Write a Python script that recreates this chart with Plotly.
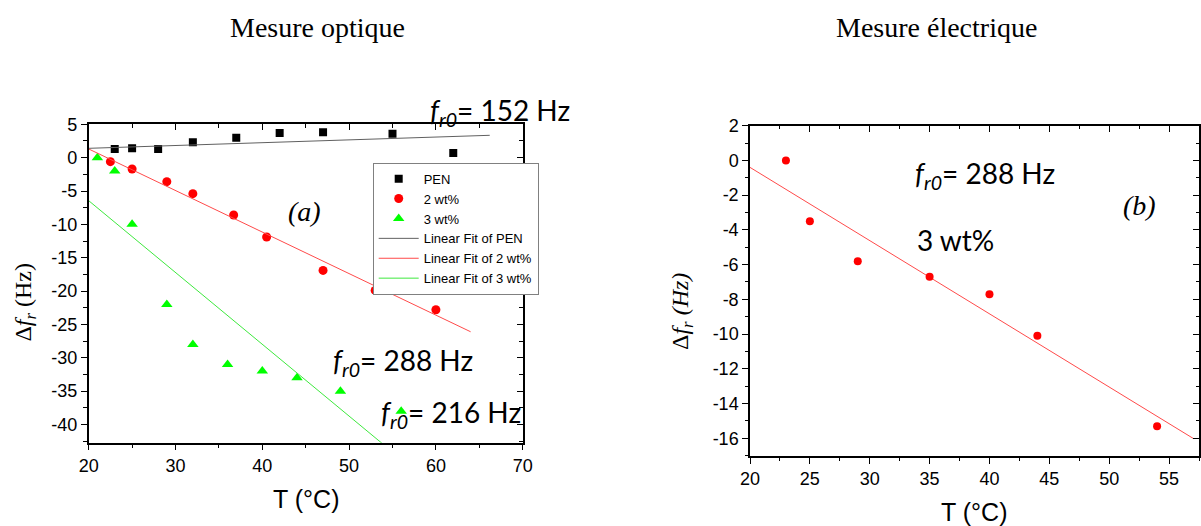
import plotly.graph_objects as go

W, H = 1201, 526

# ---------------- Panel (a) : Mesure optique ----------------
pen_T = [23, 25, 28, 32, 37, 42, 47, 55, 62]
pen_df = [1.3, 1.4, 1.3, 2.3, 3.0, 3.7, 3.8, 3.6, 0.7]
wt2_T = [22.5, 25, 29, 32, 36.7, 40.5, 47, 53, 60]
wt2_df = [-0.6, -1.7, -3.6, -5.4, -8.6, -11.9, -16.9, -19.9, -22.8]
wt3_T = [21, 23, 25, 29, 32, 36, 40, 44, 49, 56]
wt3_df = [0, -2, -10, -22, -28, -31, -32, -33, -35, -38]
fit_pen_T = [20, 66.2]
fit_pen_df = [1.4, 3.35]
fit_wt2_T = [20, 64]
fit_wt2_df = [1.3, -26.1]
fit_wt3_T = [20, 56]
fit_wt3_df = [-6.45, -45.2]
a_xticks = [20, 30, 40, 50, 60, 70]
a_yticks = [5, 0, -5, -10, -15, -20, -25, -30, -35, -40]

# ---------------- Panel (b) : Mesure électrique ----------------
b_T = [23, 25, 29, 35, 40, 44, 54]
b_df = [0, -3.5, -5.8, -6.7, -7.7, -10.1, -15.3]
fit_b_T = [20, 57]
fit_b_df = [-0.4, -16.0]
b_xticks = [20, 25, 30, 35, 40, 45, 50, 55]
b_yticks = [2, 0, -2, -4, -6, -8, -10, -12, -14, -16]

SANS = "Liberation Sans, Arial, sans-serif"
SERIF = "Liberation Serif, Times New Roman, serif"
CAL = "Lato, Open Sans, sans-serif"

fig = go.Figure()

fig.add_trace(go.Scatter(x=pen_T, y=pen_df, mode="markers", name="PEN",
                         marker=dict(symbol="square", size=8, color="black"),
                         xaxis="x", yaxis="y"))
fig.add_trace(go.Scatter(x=wt2_T, y=wt2_df, mode="markers", name="2 wt%",
                         marker=dict(symbol="circle", size=9, color="#ff0000"),
                         xaxis="x", yaxis="y"))
fig.add_trace(go.Scatter(x=wt3_T, y=wt3_df, mode="markers", name="3 wt%",
                         marker=dict(symbol="triangle-up", size=10, color="#00ff00"),
                         xaxis="x", yaxis="y"))
fig.add_trace(go.Scatter(x=fit_pen_T, y=fit_pen_df, mode="lines", name="Linear Fit of PEN",
                         line=dict(color="#606060", width=1), xaxis="x", yaxis="y"))
fig.add_trace(go.Scatter(x=fit_wt2_T, y=fit_wt2_df, mode="lines", name="Linear Fit of 2 wt%",
                         line=dict(color="#ff4a4a", width=1), xaxis="x", yaxis="y"))
fig.add_trace(go.Scatter(x=fit_wt3_T, y=fit_wt3_df, mode="lines", name="Linear Fit of 3 wt%",
                         line=dict(color="#3ee83e", width=1), xaxis="x", yaxis="y"))

fig.add_trace(go.Scatter(x=fit_b_T, y=fit_b_df, mode="lines", showlegend=False,
                         line=dict(color="#ff4a4a", width=1), xaxis="x2", yaxis="y2"))
fig.add_trace(go.Scatter(x=b_T, y=b_df, mode="markers", showlegend=False,
                         marker=dict(symbol="circle", size=8, color="#ff0000"),
                         xaxis="x2", yaxis="y2"))

# dummy traces creating overlay axes that carry the inward ticks (top / right)
fig.add_trace(go.Scatter(x=[None], y=[None], xaxis="x3", yaxis="y3",
                         showlegend=False, hoverinfo="skip"))
fig.add_trace(go.Scatter(x=[None], y=[None], xaxis="x4", yaxis="y4",
                         showlegend=False, hoverinfo="skip"))

dom_ax = [88.7 / W, 522.7 / W]
dom_ay = [1 - 442.7 / H, 1 - 124.3 / H]
dom_bx = [750 / W, 1199 / W]
dom_by = [1 - 456 / H, 1 - 125.7 / H]

ra_x = [20, 70]
ra_y = [-42.73, 5]
rb_x = [20, 57.5]
rb_y = [-17.02, 2]

tickfont = dict(family=SANS, size=18, color="black")


def main_axis(domain, rng, ticks, mdtick, anchor):
    return dict(domain=domain, range=rng, anchor=anchor, automargin=False,
                tickmode="array", tickvals=ticks, ticktext=[str(t) for t in ticks],
                ticks="outside", ticklen=6, tickwidth=1.2, tickcolor="black",
                minor=dict(tickmode="linear", tick0=0, dtick=mdtick, ticks="outside",
                           ticklen=3.5, tickwidth=1.2, tickcolor="black", showgrid=False),
                showline=True, mirror=True, linecolor="black", linewidth=1.5,
                showgrid=False, zeroline=False, tickfont=tickfont, fixedrange=True)


def over_axis(rng, ticks, mdtick, base, anchor, side):
    return dict(range=rng, overlaying=base, anchor=anchor, side=side, automargin=False,
                tickmode="array", tickvals=ticks,
                ticks="inside", ticklen=6, tickwidth=1.2, tickcolor="black",
                minor=dict(tickmode="linear", tick0=0, dtick=mdtick, ticks="inside",
                           ticklen=3.5, tickwidth=1.2, tickcolor="black", showgrid=False),
                showticklabels=False, showline=False, showgrid=False, zeroline=False,
                fixedrange=True)


fig.update_layout(
    width=W, height=H, autosize=False,
    margin=dict(l=0, r=0, t=0, b=0, pad=0),
    paper_bgcolor="white", plot_bgcolor="white",
    xaxis=main_axis(dom_ax, ra_x, a_xticks, 5, "y"),
    yaxis=main_axis(dom_ay, ra_y, a_yticks, 2.5, "x"),
    xaxis2=main_axis(dom_bx, rb_x, b_xticks, 2.5, "y2"),
    yaxis2=main_axis(dom_by, rb_y, b_yticks, 1, "x2"),
    xaxis3=over_axis(ra_x, a_xticks, 5, "x", "y", "top"),
    yaxis3=over_axis(ra_y, a_yticks, 2.5, "y", "x", "right"),
    xaxis4=over_axis(rb_x, b_xticks, 2.5, "x2", "y2", "top"),
    yaxis4=over_axis(rb_y, b_yticks, 1, "y2", "x2", "right"),
    legend=dict(x=372.7 / W, y=1 - 162.7 / H, xanchor="left", yanchor="top",
                bgcolor="white", bordercolor="#808080", borderwidth=1,
                font=dict(family=SANS, size=13, color="black"),
                itemwidth=40, entrywidth=176, entrywidthmode="pixels",
                tracegroupgap=0),
    showlegend=True,
)


def note(text, x, y, xref="paper", yref="paper", font=None, xanchor="center",
         yanchor="middle", angle=0):
    return dict(text=text, x=x, y=y, xref=xref, yref=yref, xanchor=xanchor,
                yanchor=yanchor, textangle=angle, showarrow=False, font=font)


ann = []
ann.append(note("Mesure optique", 317 / W, 1 - 27 / H,
                font=dict(family=SERIF, size=28, color="black")))
ann.append(note("Mesure électrique", 936 / W, 1 - 27 / H,
                font=dict(family=SERIF, size=28, color="black")))
ann.append(note("T (°C)", 306 / W, 1 - 498.6 / H,
                font=dict(family=SANS, size=25, color="black")))
ann.append(note("T (°C)", 974 / W, 1 - 512 / H,
                font=dict(family=SANS, size=25, color="black")))
ann.append(note("Δ<i>f</i><sub><i>r</i></sub> (Hz)", 25 / W, 1 - 302.6 / H,
                font=dict(family=SERIF, size=24, color="black"), angle=-90))
ann.append(note("Δ<i>f</i><sub><i>r</i></sub> <i>(Hz)</i>", 682 / W, 1 - 312 / H,
                font=dict(family=SERIF, size=24, color="black"), angle=-90))
ann.append(note("<i>(a)</i>", 44.9, -8.1, "x", "y",
                font=dict(family=SERIF, size=28, color="black")))
ann.append(note("<i>(b)</i>", 52.5, -2.57, "x2", "y2",
                font=dict(family=SERIF, size=28, color="black")))
FR = "<i>f</i><sub><i>r0</i></sub>= {} Hz"
calf = dict(family=CAL, size=28, color="black")
# the 152 Hz label sits above the plot frame, so it is placed in paper units
ann.append(note(FR.format(152), 427.5 / W, 1 - 112 / H, font=calf, xanchor="left"))
ann.append(note(FR.format(288), 47.95, -30.7, "x", "y", font=calf, xanchor="left"))
ann.append(note(FR.format(216), 53.5, -38.5, "x", "y", font=calf, xanchor="left"))
ann.append(note(FR.format(288), 33.6, -0.84, "x2", "y2", font=calf, xanchor="left"))
ann.append(note("3 wt%", 33.75, -4.58, "x2", "y2", font=calf, xanchor="left"))
fig.update_layout(annotations=ann)

fig.write_html("out.html", config={"displayModeBar": False},
               post_script="document.body.style.margin='0';document.body.style.overflow='hidden';")
